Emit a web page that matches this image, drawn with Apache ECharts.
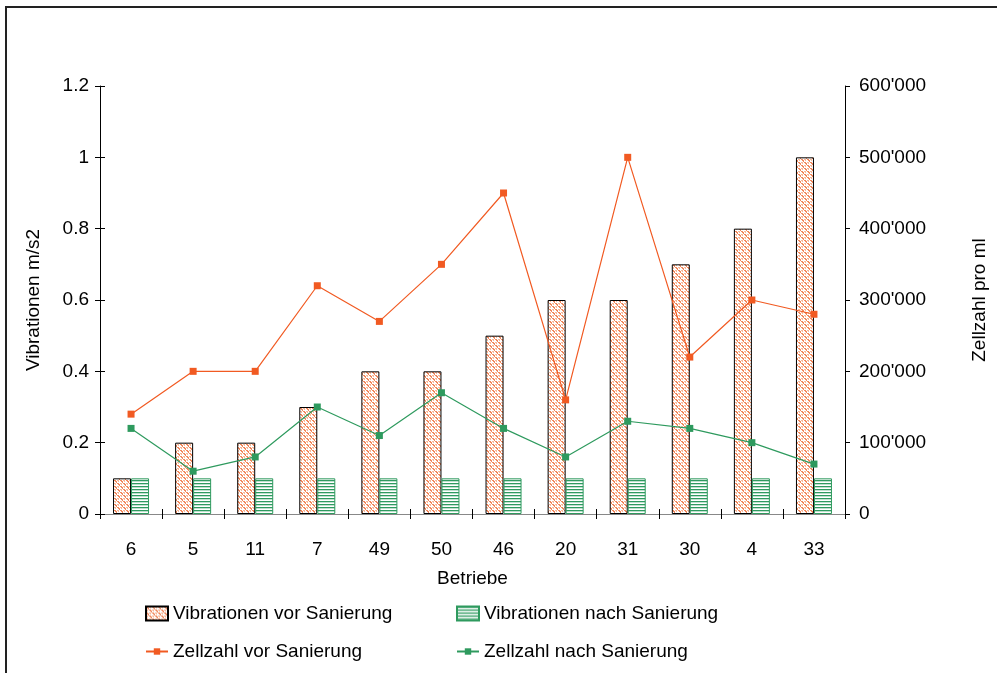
<!DOCTYPE html>
<html>
<head>
<meta charset="utf-8">
<script src="https://cdn.jsdelivr.net/npm/echarts@6/dist/echarts.min.js"></script>
<style>
html,body{margin:0;padding:0;background:#fff;}
#chart{width:997px;height:673px;}
</style>
</head>
<body>
<div id="chart"></div>
<script>
const categories = ['6','5','11','7','49','50','46','20','31','30','4','33'];
const vibVor = [0.1,0.2,0.2,0.3,0.4,0.4,0.5,0.6,0.6,0.7,0.8,1.0];
const vibNach = [0.1,0.1,0.1,0.1,0.1,0.1,0.1,0.1,0.1,0.1,0.1,0.1];
const zellVor = [140000,200000,200000,320000,270000,350000,450000,160000,500000,220000,300000,280000];
const zellNach = [120000,60000,80000,150000,110000,170000,120000,80000,130000,120000,100000,70000];
const leftTicks = {min:0,max:1.2,interval:0.2};
const rightTicks = {min:0,max:600000,interval:100000};

function makeZigzag(){
  const c = document.createElement('canvas');
  c.width = 6; c.height = 6;
  const g = c.getContext('2d');
  g.fillStyle = '#ffffff'; g.fillRect(0,0,6,6);
  g.fillStyle = '#f2885c';
  g.fillRect(0,0,2,1); g.fillRect(1,1,2,1); g.fillRect(2,2,1,1);
  g.fillRect(3,3,2,1); g.fillRect(4,4,2,1); g.fillRect(5,5,1,1);
  g.fillStyle = '#f8b898';
  g.fillRect(3,0,2,1); g.fillRect(4,1,1,1);
  g.fillRect(0,3,2,1); g.fillRect(1,4,1,1);
  return c;
}
function makeStripes(){
  const c = document.createElement('canvas');
  c.width = 4; c.height = 3;
  const g = c.getContext('2d');
  g.fillStyle = '#ffffff'; g.fillRect(0,0,4,3);
  g.fillStyle = '#2f9a60'; g.fillRect(0,0,4,1.3);
  return c;
}
const FONT = 'Liberation Sans, Arial, sans-serif';
const orange = '#f15a22';
const green = '#2e9a5e';
const legText = {fontSize:19,fontFamily:FONT,color:'#000'};

const chart = echarts.init(document.getElementById('chart'), null, {renderer:'canvas'});
chart.setOption({
  animation:false,
  backgroundColor:'#fff',
  textStyle:{fontFamily:FONT,color:'#000'},
  grid:{left:100,right:149,top:86,bottom:159},
  graphic:[{type:'rect',shape:{x:6,y:7,width:1010,height:700},style:{fill:'none',stroke:'#222',lineWidth:2},z:100}],
  legend:[
    {data:['Vibrationen vor Sanierung'],icon:'rect',left:140,top:599,itemWidth:22,itemHeight:14,textStyle:legText},
    {data:['Vibrationen nach Sanierung'],icon:'rect',left:451,top:599,itemWidth:22,itemHeight:14,textStyle:legText},
    {data:['Zellzahl vor Sanierung'],left:140,top:637,itemWidth:22,itemHeight:8,textStyle:legText},
    {data:['Zellzahl nach Sanierung'],left:451,top:637,itemWidth:22,itemHeight:8,textStyle:legText}
  ],
  xAxis:[
    {type:'category',data:categories,position:'bottom',
     name:'Betriebe',nameLocation:'middle',nameGap:55,nameTextStyle:{fontSize:19,fontFamily:FONT,color:'#000'},
     axisLine:{lineStyle:{color:'#000',width:1}},axisTick:{show:true,length:5,lineStyle:{color:'#000'}},
     axisLabel:{fontSize:19,fontFamily:FONT,color:'#000',margin:26},splitLine:{show:false}},
    {type:'category',data:categories,position:'bottom',
     axisLine:{show:false},axisTick:{show:true,inside:true,length:5,lineStyle:{color:'#000'}},
     axisLabel:{show:false},splitLine:{show:false}},
    {type:'category',data:categories,position:'top',
     axisLine:{show:true,lineStyle:{color:'#888',width:1}},axisTick:{show:false},
     axisLabel:{show:false},splitLine:{show:false}}
  ],
  yAxis:[
    {type:'value',position:'left',min:leftTicks.min,max:leftTicks.max,interval:leftTicks.interval,
     name:'Vibrationen m/s2',nameLocation:'middle',nameGap:57,nameRotate:90,
     nameTextStyle:{fontSize:19,fontFamily:FONT,color:'#000'},
     axisLine:{show:true,lineStyle:{color:'#000',width:1}},axisTick:{show:true,length:5,lineStyle:{color:'#000'}},
     axisLabel:{fontSize:19,fontFamily:FONT,color:'#000',margin:11},splitLine:{show:false}},
    {type:'value',position:'right',min:rightTicks.min,max:rightTicks.max,interval:rightTicks.interval,
     name:'Zellzahl pro ml',nameLocation:'middle',nameGap:125,nameRotate:90,
     nameTextStyle:{fontSize:19,fontFamily:FONT,color:'#000'},
     axisLine:{show:true,lineStyle:{color:'#000',width:1}},axisTick:{show:true,length:5,lineStyle:{color:'#000'}},
     axisLabel:{fontSize:19,fontFamily:FONT,color:'#000',margin:14,
       formatter:v=>String(Math.round(v)).replace(/\B(?=(\d{3})+(?!\d))/g,"'")},
     splitLine:{show:false}},
    {type:'value',position:'left',min:leftTicks.min,max:leftTicks.max,interval:leftTicks.interval,
     axisLine:{show:false},axisTick:{show:true,inside:true,length:5,lineStyle:{color:'#000'}},
     axisLabel:{show:false},splitLine:{show:false}}
  ],
  series:[
    {name:'Vibrationen vor Sanierung',type:'bar',data:vibVor,xAxisIndex:0,yAxisIndex:0,barWidth:18,barGap:'0%',
     itemStyle:{color:{image:makeZigzag(),repeat:'repeat'},borderColor:'#000',borderWidth:1},z:2},
    {name:'Vibrationen nach Sanierung',type:'bar',data:vibNach,xAxisIndex:0,yAxisIndex:0,barWidth:18,barGap:'0%',
     itemStyle:{color:{image:makeStripes(),repeat:'repeat'},borderColor:green,borderWidth:1},z:2},
    {name:'Zellzahl vor Sanierung',type:'line',data:zellVor,xAxisIndex:0,yAxisIndex:1,
     symbol:'rect',symbolSize:7,lineStyle:{color:orange,width:1.2},itemStyle:{color:orange},z:5},
    {name:'Zellzahl nach Sanierung',type:'line',data:zellNach,xAxisIndex:0,yAxisIndex:1,
     symbol:'rect',symbolSize:7,lineStyle:{color:green,width:1.2},itemStyle:{color:green},z:5}
  ]
});
</script>
</body>
</html>
